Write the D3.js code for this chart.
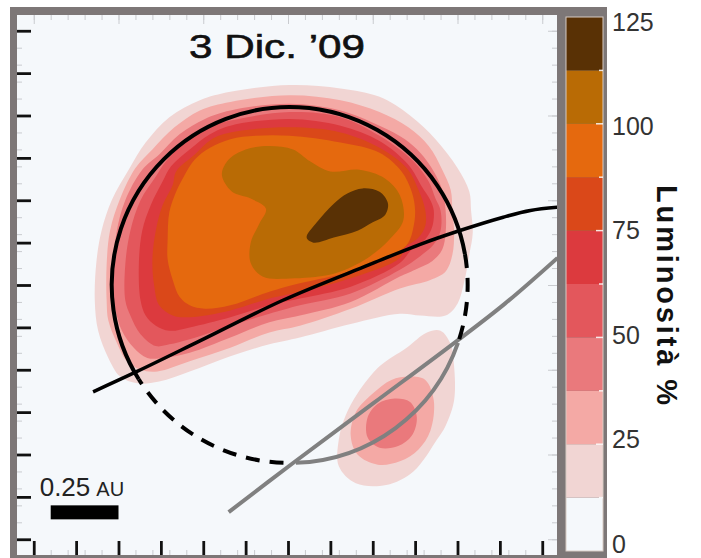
<!DOCTYPE html>
<html>
<head>
<meta charset="utf-8">
<script src="https://cdn.jsdelivr.net/npm/d3@7"></script>
<style>
  body { margin: 0; background: #fff; }
  svg { display: block; font-family: "Liberation Sans", Arial, Helvetica, sans-serif; }
</style>
</head>
<body>
<div id="chart"></div>
<script>
// colour bar: band edges (Luminosità %) and the colour of each band
const bandLevels = [0, 12.5, 25, 37.5, 50, 62.5, 75, 87.5, 100, 112.5, 125];
const bandColors = ["#f5f8fb", "#f1d5d3", "#f4a9a5", "#ea797c", "#e3575c", "#dc3a3e",
                    "#da4819", "#e5690e", "#b96b05", "#593105"];
const colorTicks = [0, 25, 50, 75, 100, 125];

// sky offsets in mas
const majorTicks = [-1.5, -1.25, -1, -0.75, -0.5, -0.25, 0, 0.25, 0.5, 0.75, 1, 1.25, 1.5];
const fineTicks = [-1.5, -1.4, -1.3, -1.2, -1.1, -1, -0.9, -0.8, -0.7, -0.6, -0.5, -0.4, -0.3, -0.2, -0.1, 0,
                   0.1, 0.2, 0.3, 0.4, 0.5, 0.6, 0.7, 0.8, 0.9, 1, 1.1, 1.2, 1.3, 1.4, 1.5];
const fineMajorTicks = [-1.5, -1, -0.5, 0, 0.5, 1, 1.5];

// contour outlines of the main source [x, y] in mas, one per level
const main12 = [[-0.34,1.14],[0.01,1.18],[0.31,1.16],[0.54,1.11],[0.72,1.00],[0.87,0.86],[1.00,0.69],[1.07,0.55],[1.08,0.44],[1.09,0.31],[1.07,0.18],[1.04,0.02],[1.00,-0.11],[0.93,-0.18],[0.78,-0.18],[0.66,-0.17],[0.37,-0.23],[0.07,-0.31],[-0.11,-0.35],[-0.34,-0.42],[-0.58,-0.51],[-0.76,-0.57],[-0.89,-0.58],[-0.99,-0.54],[-1.06,-0.43],[-1.12,-0.27],[-1.14,-0.09],[-1.13,0.14],[-1.10,0.32],[-1.04,0.50],[-0.94,0.68],[-0.84,0.84],[-0.70,0.99],[-0.52,1.09]];
const main25 = [[-0.34,1.08],[0.01,1.12],[0.31,1.09],[0.54,1.02],[0.71,0.93],[0.83,0.82],[0.91,0.68],[0.96,0.56],[0.97,0.44],[0.98,0.31],[0.97,0.18],[0.93,0.08],[0.84,0.03],[0.66,-0.02],[0.37,-0.14],[0.07,-0.24],[-0.11,-0.28],[-0.34,-0.37],[-0.58,-0.45],[-0.77,-0.51],[-0.87,-0.50],[-0.95,-0.45],[-1.01,-0.34],[-1.06,-0.21],[-1.07,-0.09],[-1.07,0.12],[-1.05,0.32],[-0.99,0.51],[-0.90,0.69],[-0.80,0.80],[-0.67,0.93],[-0.52,1.03]];
const main37 = [[-0.34,1.03],[0.01,1.07],[0.31,1.03],[0.54,0.94],[0.69,0.86],[0.78,0.78],[0.86,0.67],[0.91,0.56],[0.93,0.44],[0.93,0.31],[0.91,0.21],[0.85,0.14],[0.75,0.09],[0.66,0.05],[0.37,-0.10],[0.07,-0.18],[-0.11,-0.22],[-0.34,-0.31],[-0.58,-0.40],[-0.73,-0.43],[-0.83,-0.43],[-0.91,-0.37],[-0.98,-0.27],[-1.01,-0.18],[-1.03,-0.09],[-1.03,0.12],[-1.01,0.32],[-0.96,0.50],[-0.86,0.68],[-0.76,0.77],[-0.64,0.89],[-0.49,0.98]];
const main50 = [[-0.34,0.97],[0.01,1.02],[0.31,0.99],[0.54,0.88],[0.74,0.73],[0.83,0.61],[0.87,0.51],[0.90,0.44],[0.90,0.32],[0.86,0.24],[0.78,0.17],[0.66,0.09],[0.37,-0.05],[0.07,-0.12],[-0.11,-0.17],[-0.34,-0.24],[-0.58,-0.32],[-0.70,-0.35],[-0.78,-0.36],[-0.87,-0.29],[-0.93,-0.18],[-0.96,-0.09],[-0.96,0.12],[-0.93,0.32],[-0.87,0.50],[-0.78,0.64],[-0.72,0.73],[-0.61,0.84],[-0.47,0.93]];
const main62 = [[-0.34,0.94],[0.01,0.98],[0.31,0.94],[0.54,0.85],[0.71,0.71],[0.79,0.58],[0.84,0.50],[0.86,0.44],[0.85,0.34],[0.81,0.27],[0.73,0.21],[0.66,0.13],[0.37,-0.01],[0.07,-0.08],[-0.11,-0.12],[-0.34,-0.19],[-0.58,-0.25],[-0.70,-0.27],[-0.78,-0.24],[-0.84,-0.18],[-0.87,-0.09],[-0.88,0.12],[-0.86,0.32],[-0.81,0.47],[-0.74,0.61],[-0.69,0.70],[-0.58,0.80],[-0.46,0.89]];
const main75 = [[-0.34,0.90],[0.01,0.93],[0.31,0.90],[0.54,0.81],[0.70,0.69],[0.77,0.56],[0.81,0.44],[0.81,0.35],[0.77,0.28],[0.69,0.22],[0.66,0.16],[0.37,0.04],[0.07,-0.04],[-0.11,-0.08],[-0.34,-0.15],[-0.58,-0.19],[-0.68,-0.18],[-0.76,-0.12],[-0.79,0.00],[-0.80,0.15],[-0.78,0.32],[-0.74,0.47],[-0.68,0.59],[-0.66,0.67],[-0.55,0.77],[-0.45,0.86]];
const main87 = [[-0.34,0.86],[-0.19,0.88],[0.01,0.88],[0.31,0.84],[0.54,0.78],[0.67,0.67],[0.73,0.55],[0.75,0.44],[0.74,0.34],[0.71,0.25],[0.64,0.19],[0.37,0.08],[0.07,0.01],[-0.11,-0.04],[-0.34,-0.12],[-0.49,-0.14],[-0.58,-0.12],[-0.64,-0.07],[-0.68,0.03],[-0.71,0.15],[-0.71,0.27],[-0.70,0.43],[-0.66,0.55],[-0.62,0.63],[-0.55,0.74],[-0.46,0.81]];
const main100 = [[-0.39,0.65],[-0.35,0.74],[-0.25,0.80],[-0.11,0.82],[0.03,0.80],[0.13,0.73],[0.25,0.67],[0.42,0.68],[0.57,0.63],[0.66,0.53],[0.68,0.38],[0.60,0.27],[0.47,0.16],[0.28,0.07],[0.04,0.04],[-0.15,0.05],[-0.22,0.13],[-0.22,0.25],[-0.17,0.36],[-0.13,0.45],[-0.22,0.51],[-0.33,0.55]];
const main112 = [[0.11,0.28],[0.17,0.37],[0.27,0.48],[0.35,0.54],[0.44,0.57],[0.54,0.55],[0.59,0.48],[0.57,0.41],[0.50,0.37],[0.41,0.32],[0.27,0.28],[0.15,0.25]];

// the faint companion blob below
const spot12 = [[0.82,-0.28],[0.90,-0.27],[0.96,-0.35],[0.98,-0.48],[0.98,-0.68],[0.93,-0.83],[0.88,-0.91],[0.74,-1.10],[0.58,-1.18],[0.40,-1.17],[0.30,-1.07],[0.30,-0.91],[0.34,-0.77],[0.41,-0.64],[0.54,-0.48],[0.70,-0.37]];
const spot25 = [[0.72,-0.54],[0.81,-0.56],[0.86,-0.68],[0.84,-0.86],[0.77,-0.97],[0.66,-1.04],[0.53,-1.06],[0.41,-1.00],[0.37,-0.89],[0.40,-0.75],[0.50,-0.64],[0.61,-0.56]];
const spot37 = [[0.63,-0.67],[0.72,-0.69],[0.76,-0.78],[0.73,-0.89],[0.65,-0.95],[0.54,-0.96],[0.47,-0.90],[0.47,-0.78],[0.53,-0.70]];

// disk outline: solid, dashed and grey parts (angles in degrees, clockwise from +x on screen)
const diskCenter = [0.01, 0.00];
const diskRadius = 1.05;
const diskSolidDeg = [148, 350];
const diskDashedDeg = [[350, 379], [92, 148]];
const diskGreyDeg = [19, 88];
// orbit arcs
const orbitBlack = [[-1.15,-0.63],[-0.89,-0.51],[-0.52,-0.33],[-0.03,-0.09],[0.48,0.12],[0.78,0.24],[1.01,0.32],[1.27,0.40],[1.43,0.44],[1.60,0.46]];
const orbitGrey = [[-0.35,-1.34],[0.03,-1.05],[0.50,-0.70],[0.97,-0.35],[1.28,-0.11],[1.59,0.16]];

// 0.25 AU bar, length in mas
const scaleBarStart = [-1.40, -1.30];
const scaleBarMas = 0.4;

const contours = [
  { level: 12.5, pts: main12 }, { level: 25, pts: main25 }, { level: 37.5, pts: main37 },
  { level: 50, pts: main50 }, { level: 62.5, pts: main62 }, { level: 75, pts: main75 },
  { level: 87.5, pts: main87 }, { level: 100, pts: main100 }, { level: 112.5, pts: main112 },
  { level: 12.5, pts: spot12 }, { level: 25, pts: spot25 }, { level: 37.5, pts: spot37 }
];

const svg = d3.select("#chart").append("svg")
    .attr("width", 701)
    .attr("height", 558);

const x = d3.scaleLinear().domain([-1.6, 1.6]).range([16.8, 559.2]);
const y = d3.scaleLinear().domain([-1.6, 1.6]).range([556.2, 13.8]);
const color = d3.scaleThreshold().domain(bandLevels.slice(1, -1)).range(bandColors);

// grey frame round map + colour bar
svg.append("rect").attr("x", 10).attr("y", 7).attr("width", 597).attr("height", 551).attr("fill", "#7d7777");
svg.append("rect").attr("x", 17).attr("y", 15).attr("width", 540).attr("height", 540).attr("fill", bandColors[0]);

svg.append("defs").append("clipPath").attr("id", "plotclip")
    .append("rect").attr("x", 17).attr("y", 15).attr("width", 540).attr("height", 540);

const plot = svg.append("g").attr("clip-path", "url(#plotclip)");

const ring = d3.line().x(d => x(d[0])).y(d => y(d[1])).curve(d3.curveCatmullRomClosed.alpha(0.5));
const curve = d3.line().x(d => x(d[0])).y(d => y(d[1])).curve(d3.curveCatmullRom.alpha(0.5));

plot.selectAll(".band")
    .data(contours)
    .enter().append("path")
    .attr("class", "band")
    .attr("d", d => ring(d.pts))
    .attr("fill", d => color(d.level));

// disk outline
const cx = x(diskCenter[0]), cy = y(diskCenter[1]), r = x(diskRadius) - x(0);
const rad = Math.PI / 180;
const arcPath = segs => {
  const p = d3.path();
  segs.forEach(([a0, a1]) => {
    p.moveTo(cx + r * Math.cos(a0 * rad), cy + r * Math.sin(a0 * rad));
    p.arc(cx, cy, r, a0 * rad, a1 * rad);
  });
  return p.toString();
};

// grey orbit line and the grey part of the disk
plot.append("path").attr("d", curve(orbitGrey))
    .attr("fill", "none").attr("stroke", "#808080").attr("stroke-width", 4);
plot.append("path").attr("d", arcPath([diskGreyDeg]))
    .attr("fill", "none").attr("stroke", "#808080").attr("stroke-width", 4);

plot.append("path").attr("d", arcPath([diskSolidDeg]))
    .attr("fill", "none").attr("stroke", "#000").attr("stroke-width", 4);
plot.append("path").attr("d", arcPath(diskDashedDeg))
    .attr("fill", "none").attr("stroke", "#000").attr("stroke-width", 4)
    .attr("stroke-dasharray", "14,10");

plot.append("path").attr("d", curve(orbitBlack))
    .attr("fill", "none").attr("stroke", "#000").attr("stroke-width", 3.5);

// faint ticks of the original image
const faint = g => g.call(g => g.select(".domain").remove())
    .selectAll("line").attr("stroke", "#c9cbcf").attr("stroke-width", 1);
[[fineTicks, 5], [fineMajorTicks, 9]].forEach(([t, s]) => {
  svg.append("g").attr("transform", "translate(0,15)").call(d3.axisTop(x).tickValues(t).tickSize(-s).tickFormat("")).call(faint);
  svg.append("g").attr("transform", "translate(0,555)").call(d3.axisBottom(x).tickValues(t).tickSize(-s).tickFormat("")).call(faint);
  svg.append("g").attr("transform", "translate(17,0)").call(d3.axisLeft(y).tickValues(t).tickSize(-s).tickFormat("")).call(faint);
  svg.append("g").attr("transform", "translate(557,0)").call(d3.axisRight(y).tickValues(t).tickSize(-s).tickFormat("")).call(faint);
});

// black ticks, left and bottom
const blackTicks = g => g.call(g => g.select(".domain").remove())
    .selectAll("line").attr("stroke", "#111").attr("stroke-width", 2.8);
svg.append("g").attr("transform", "translate(0,555)")
    .call(d3.axisBottom(x).tickValues(majorTicks).tickSize(-14).tickFormat(""))
    .call(blackTicks);
svg.append("g").attr("transform", "translate(17,0)")
    .call(d3.axisLeft(y).tickValues(majorTicks).tickSize(-14).tickFormat(""))
    .call(blackTicks);

// title, glyphs are drawn a bit wide in the original
svg.append("text")
    .attr("transform", "translate(277,58) scale(1.28,1)")
    .attr("text-anchor", "middle")
    .attr("font-size", "33px")
    .attr("fill", "#111")
    .attr("stroke", "#111").attr("stroke-width", 0.6)
    .text("3 Dic. \u201909");

// scale bar
const sbx = x(scaleBarStart[0]), sby = y(scaleBarStart[1]);
svg.append("rect")
    .attr("x", sbx).attr("y", sby)
    .attr("width", x(scaleBarStart[0] + scaleBarMas) - sbx)
    .attr("height", 14)
    .attr("fill", "#000");
const sbText = svg.append("text").attr("x", sbx - 11).attr("y", sby - 9).attr("fill", "#222");
sbText.append("tspan").attr("font-size", "26px").text("0.25");
sbText.append("tspan").attr("font-size", "20px").attr("dx", 6).text("AU");

// colour bar
const cb = d3.scaleLinear().domain([0, 125]).range([551, 17]);
const cbLabel = d3.scaleLinear().domain([0, 125]).range([544, 22]);
svg.selectAll(".cbband")
    .data(d3.pairs(bandLevels))
    .enter().append("rect")
    .attr("class", "cbband")
    .attr("x", 566)
    .attr("y", d => cb(d[1]))
    .attr("width", 37)
    .attr("height", d => cb(d[0]) - cb(d[1]))
    .attr("fill", d => color(d[0]));
svg.append("rect").attr("x", 566).attr("y", 17).attr("width", 37).attr("height", 534)
    .attr("fill", "none").attr("stroke", "#d8ccc4").attr("stroke-width", 1);

svg.selectAll(".cbtick")
    .data(bandLevels.slice(1, -1))
    .enter().append("line")
    .attr("class", "cbtick")
    .attr("x1", d => colorTicks.includes(d) ? 596 : 599).attr("x2", 603)
    .attr("y1", d => cb(d)).attr("y2", d => cb(d))
    .attr("stroke", "#fff").attr("stroke-width", 1.5).attr("opacity", 0.85);

svg.append("g")
    .attr("transform", "translate(603,0)")
    .call(d3.axisRight(cbLabel).tickValues(colorTicks).tickSize(0).tickPadding(9))
    .call(g => g.select(".domain").remove())
    .selectAll("text")
    .attr("font-family", "Liberation Sans, Arial, sans-serif")
    .attr("font-size", "25px")
    .attr("fill", "#333");

svg.append("text")
    .attr("transform", "translate(657,295) rotate(90)")
    .attr("text-anchor", "middle")
    .attr("font-size", "29px")
    .attr("font-weight", "bold")
    .attr("textLength", 220)
    .attr("lengthAdjust", "spacing")
    .attr("fill", "#111")
    .text("Luminosità %");
</script>
</body>
</html>
